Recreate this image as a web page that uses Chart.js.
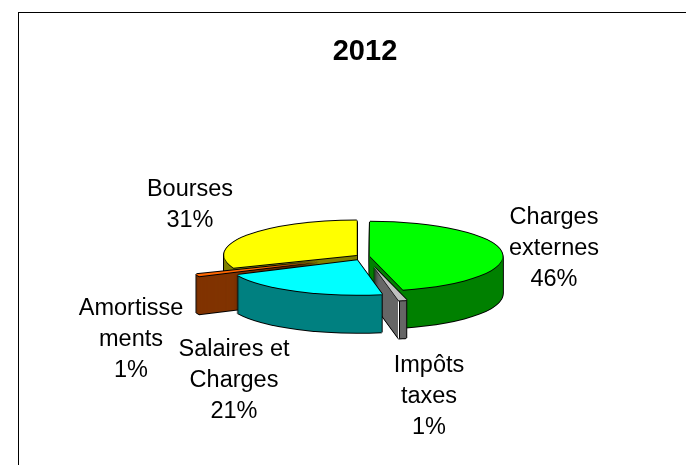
<!DOCTYPE html>
<html>
<head>
<meta charset="utf-8">
<title>2012</title>
<script src="https://cdn.jsdelivr.net/npm/chart.js"></script>
<style>
html, body { margin: 0; padding: 0; background: white; overflow: hidden; }
#frame { position: absolute; left: 18px; top: 12px; width: 692px; height: 470px; border-left: 1px solid black; border-top: 1px solid black; }
</style>
</head>
<body>
<div id="frame"><canvas id="myChart" width="692" height="470"></canvas></div>
<script>
const categories = ["Charges externes", "Impôts taxes", "Salaires et Charges", "Amortissements", "Bourses"];
const values = [46, 1, 21, 1, 31];
const labelLines = [["Charges", "externes"], ["Impôts", "taxes"], ["Salaires et", "Charges"], ["Amortisse", "ments"], ["Bourses"]];
const topColors = ["#00ff00", "#c0c0c0", "#00ffff", "#ff6600", "#ffff00"];
const sideColors = ["#008000", "#666666", "#008080", "#803300", "#808000"];

// how far each slice is pulled out, along its own middle angle
const explode = [5, 40, 17, 50, 10];
const labelCenters = [[535, 205], [410, 353], [215, 337], [112, 296], [171, 177]];
const drawOrder = [4, 0, 1, 3, 2];
const squash = 0.26;
const depth = 38;
const lineHeight = 31;

function paint(chart, arc, i, dx, dy, color) {
	const ctx = chart.ctx;
	const mid = (arc.startAngle + arc.endAngle) / 2;
	const saved = arc.options;
	arc.options = Object.assign({}, saved, { backgroundColor: color, borderColor: color, borderWidth: 0 });
	ctx.save();
	ctx.translate(arc.x + dx, arc.y + dy);
	ctx.scale(1, squash);
	ctx.translate(-arc.x, -arc.y);
	ctx.translate(Math.cos(mid) * explode[i], Math.sin(mid) * explode[i]);
	arc.draw(ctx);
	ctx.restore();
	arc.options = saved;
}

// seam between the cut face and the rounded wall of the thin grey slice
function seam(chart, arc, i) {
	const ctx = chart.ctx;
	const mid = (arc.startAngle + arc.endAngle) / 2;
	const x = Math.round(arc.x + Math.cos(arc.endAngle) * arc.outerRadius + Math.cos(mid) * explode[i]);
	const y = arc.y + squash * (Math.sin(arc.endAngle) * arc.outerRadius + Math.sin(mid) * explode[i]);
	ctx.save();
	ctx.fillStyle = "black";
	ctx.fillRect(x, y, 1, depth);
	ctx.fillStyle = "white";
	ctx.fillRect(x - 1, y, 1, depth);
	ctx.restore();
}

const pie3d = {
	id: "pie3d",
	beforeDatasetDraw(chart, args) {
		const arcs = args.meta.data;
		drawOrder.forEach((i) => {
			const arc = arcs[i];
			// black silhouette first, then the wall, then the top
			for (let d = depth; d >= 0; d--) {
				paint(chart, arc, i, -1, d, "black");
				paint(chart, arc, i, 1, d, "black");
			}
			paint(chart, arc, i, 0, depth + 1, "black");
			paint(chart, arc, i, 0, -1, "black");
			for (let d = depth; d >= 1; d--) {
				paint(chart, arc, i, 0, d, sideColors[i]);
			}
			if (values[i] < 2 && i === 1) seam(chart, arc, i);
			paint(chart, arc, i, 0, 1, "black");
			paint(chart, arc, i, 0, 0, topColors[i]);
		});
		return false;
	},
	afterDraw(chart) {
		const ctx = chart.ctx;
		const total = values.reduce((a, b) => a + b, 0);
		ctx.save();
		ctx.fillStyle = "black";
		ctx.font = "23.5px 'Liberation Sans'";
		ctx.textAlign = "center";
		ctx.textBaseline = "middle";
		labelLines.forEach((lines, i) => {
			const text = lines.concat(Math.round(values[i] / total * 100) + "%");
			text.forEach((line, k) => {
				ctx.fillText(line, labelCenters[i][0], labelCenters[i][1] + k * lineHeight);
			});
		});
		ctx.restore();
	}
};

new Chart("myChart", {
	type: "pie",
	data: {
		labels: categories,
		datasets: [{
			data: values,
			backgroundColor: topColors,
			borderWidth: 0,
			hoverOffset: 0
		}]
	},
	options: {
		responsive: false,
		animation: false,
		events: [],
		layout: { padding: { left: 210, right: 210, bottom: 94 } },
		plugins: {
			legend: { display: false },
			tooltip: { enabled: false },
			title: {
				display: true,
				text: "2012",
				color: "black",
				font: { family: "'Liberation Sans'", size: 29, weight: "bold" },
				padding: { top: 22, bottom: 54 }
			}
		}
	},
	plugins: [pie3d]
});
</script>
</body>
</html>
